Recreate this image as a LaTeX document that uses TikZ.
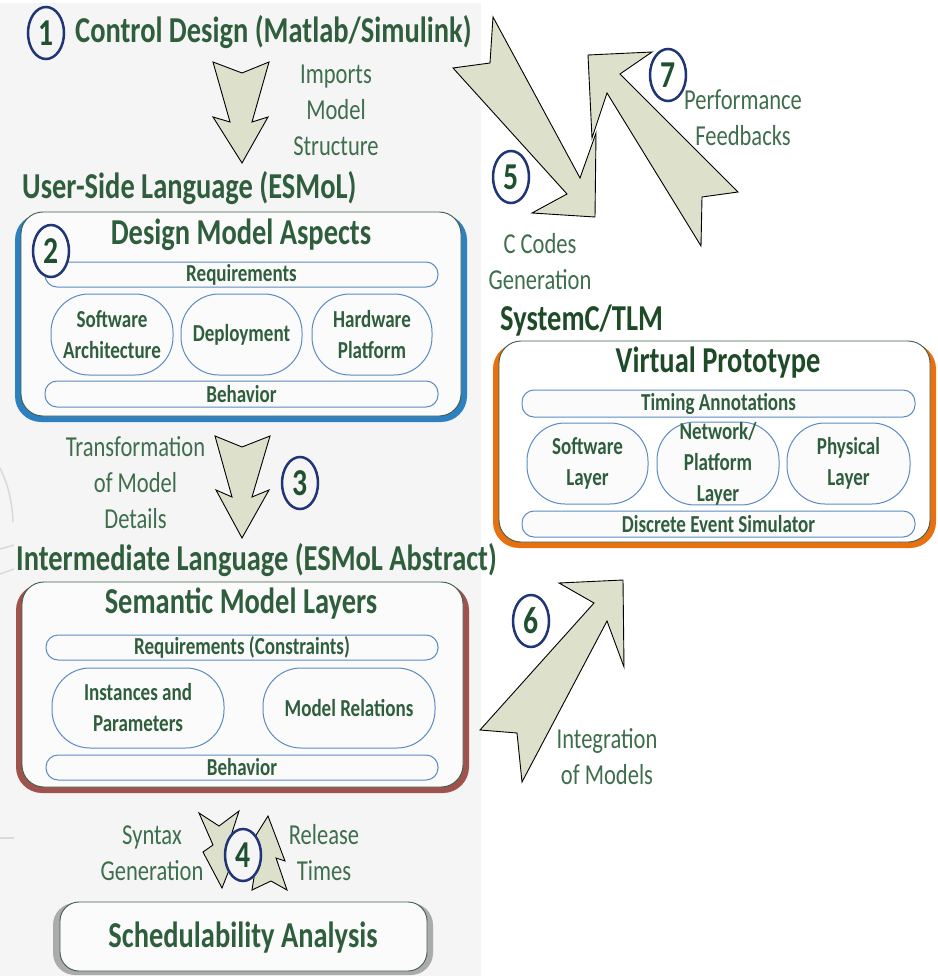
\documentclass[tikz,border=0pt]{standalone}
\usepackage{fontspec}
\setmainfont[FakeStretch=0.78]{Carlito}
\usetikzlibrary{shapes.geometric}

\definecolor{panel}{HTML}{F5F5F5}
\definecolor{boxfill}{HTML}{FBFBFB}
\definecolor{headgreen}{HTML}{2F5E3C}
\definecolor{darkgreen}{HTML}{1E4A28}
\definecolor{labgreen}{HTML}{3E6E4C}
\definecolor{digitgreen}{HTML}{1F5030}
\definecolor{navy}{HTML}{1F3577}
\definecolor{arrowfill}{HTML}{DDE0CB}
\definecolor{pillblue}{HTML}{5B8BC6}
\definecolor{bandblue}{HTML}{2E80C0}
\definecolor{bandbrown}{HTML}{A0524C}
\definecolor{bandorange}{HTML}{E8700E}
\definecolor{bandgray}{HTML}{ABABAB}
\definecolor{edgegreen}{HTML}{3C5F48}
\definecolor{faint}{HTML}{DADADA}

\begin{document}
\begin{tikzpicture}[x=1pt,y=-1pt,
  heading/.style={font=\bfseries\fontsize{36.5}{40}\selectfont,text=headgreen,inner sep=0pt},
  caption/.style={font=\fontsize{28.9}{36}\selectfont,text=labgreen,align=center,inner sep=0pt},
  pill/.style={draw=pillblue,line width=1pt,fill=boxfill,rounded corners=#1,
    font=\bfseries\fontsize{24.4}{31}\selectfont,text=headgreen,align=center,inner sep=0pt},
  marker/.style={ellipse,draw=navy,line width=2.5pt,minimum width=36pt,minimum height=52pt,
    inner sep=0pt,font=\bfseries\fontsize{38}{38}\selectfont,text=digitgreen},
  blockarrow/.style={draw=black,line width=0.9pt,fill=arrowfill,line join=miter},
  frameedge/.style={draw=edgegreen,line width=0.9pt,fill=boxfill}
]
\useasboundingbox (0,0) rectangle (937,976);

% left panel
\fill[panel] (0,3) rectangle (481,976);
% faint background strokes at the left edge
\draw[faint,line width=1.5pt] (0,468) .. controls (8,485) and (12,500) .. (13,522);
\draw[faint,line width=1.5pt] (0,549) -- (14,545);
\draw[faint,line width=1.5pt] (0,574) -- (14,569);
\draw[faint,line width=1.5pt] (0,838) -- (14,838);

% block arrows
\draw[blockarrow] (213,62) -- (242,73) -- (269,62) -- (252,122) -- (268,117) -- (242,163) -- (213,117) -- (230,122) -- cycle;
\draw[blockarrow] (215,436) -- (242,447) -- (270,436) -- (252,497) -- (269,490) -- (242,538) -- (216,490) -- (232,497) -- cycle;
\draw[blockarrow] (701,246) -- (702,197) -- (738,192) -- (620,74) -- (652,52) -- (588,55) -- (592,138) -- (607,93) -- cycle;
\draw[blockarrow] (493,17) -- (490,63) -- (453,68) -- (567,194) -- (532,213) -- (595,217) -- (596,133) -- (580,178) -- cycle;
\draw[blockarrow] (480,730) -- (517,733) -- (522,782) -- (607,621) -- (624,667) -- (623,580) -- (559,583) -- (594,603) -- cycle;
\draw[blockarrow] (199,813) -- (219,826) -- (239,811) -- (229,842) -- (239,845) -- (222,888) -- (203,852) -- (213,845) -- cycle;
\draw[blockarrow] (268,816) -- (285,861) -- (276,858) -- (287,890) -- (271,881) -- (252,890) -- (258,852) -- (248,848) -- cycle;

% framed containers: coloured band with a thin-edged panel on top
\fill[bandblue,rounded corners=26pt] (15,214) rectangle (467,422);
\draw[frameedge,rounded corners=22pt] (21,212) rectangle (461,416);
\fill[bandbrown,rounded corners=26pt] (16,584) rectangle (469,793);
\draw[frameedge,rounded corners=22pt] (22,582) rectangle (463,787);
\fill[bandorange,rounded corners=26pt] (493,343) rectangle (936,548);
\draw[frameedge,rounded corners=22pt,fill=white] (499,341) rectangle (930,542);
\fill[bandgray,rounded corners=22pt] (53,903) rectangle (433,975);
\draw[frameedge,rounded corners=19pt] (60,902) rectangle (427,971);

% headings
\node[heading,anchor=base west] (cd) at (75,43) {Control Design (Matlab/Simulink)};
\node[heading,anchor=base west] (usl) at (22,199) {User-Side Language (ESMoL)};
\node[heading,anchor=base] (dma) at (241,244) {Design Model Aspects};
\node[heading,anchor=base west,text=darkgreen] (sctlm) at (500,330) {SystemC/TLM};
\node[heading,anchor=base,text=darkgreen] (vp) at (718,372) {Virtual Prototype};
\node[heading,anchor=base west] (il) at (16,570) {Intermediate Language (ESMoL Abstract)};
\node[heading,anchor=base] (sml) at (241,613) {Semantic Model Layers};
\node[heading,anchor=base] (sa) at (243,947) {Schedulability Analysis};

% design model aspects
\node[pill=12pt,minimum width=393pt,minimum height=25pt] (req) at (241.5,274.5) {Requirements};
\node[pill=38pt,minimum width=122pt,minimum height=81pt] (swa) at (112,334.5) {Software\\Architecture};
\node[pill=38pt,minimum width=121pt,minimum height=81pt] (dep) at (241.5,334.5) {Deployment};
\node[pill=38pt,minimum width=120pt,minimum height=81pt] (hwp) at (372,334.5) {Hardware\\Platform};
\node[pill=12pt,minimum width=393pt,minimum height=26pt] (beh) at (241.5,394) {Behavior};

% virtual prototype
\node[pill=12pt,minimum width=393pt,minimum height=27pt] (tim) at (718.5,403.5) {Timing Annotations};
\node[pill=38pt,minimum width=121pt,minimum height=81pt] (swl) at (587.5,463.5) {Software\\Layer};
\node[pill=38pt,minimum width=122pt,minimum height=81pt] (npl) at (718,463.5) {Network/\\Platform\\Layer};
\node[pill=38pt,minimum width=123pt,minimum height=81pt] (phl) at (848.5,463.5) {Physical\\Layer};
\node[pill=12pt,minimum width=393pt,minimum height=26pt] (des) at (718.5,524) {Discrete Event Simulator};

% semantic model layers
\node[pill=12pt,minimum width=392pt,minimum height=25pt] (reqc) at (242,647.5) {Requirements (Constraints)};
\node[pill=38pt,minimum width=172pt,minimum height=80pt] (inst) at (138,708) {Instances and\\Parameters};
\node[pill=38pt,minimum width=172pt,minimum height=80pt] (mrel) at (349,708) {Model Relations};
\node[pill=12pt,minimum width=392pt,minimum height=25pt] (behs) at (242,767.5) {Behavior};

% captions (anchored at the baseline of their last line)
\node[caption,anchor=base] (cimp) at (336,156) {Imports\\Model\\Structure};
\node[caption,anchor=base] (cperf) at (743,146) {Performance\\Feedbacks};
\node[caption,anchor=base] (ccode) at (540,289) {C Codes\\Generation};
\node[caption,anchor=base] (ctrans) at (135.5,528) {Transformation\\of Model\\Details};
\node[caption,anchor=base] (cint) at (607,784) {Integration\\of Models};
\node[caption,anchor=base] (csyn) at (152,880) {Syntax\\Generation};
\node[caption,anchor=base] (crel) at (324,880) {Release\\Times};

% step markers
\node[marker,fill=panel] (m1) at (46,33) {1};
\node[marker,fill=boxfill] (m2) at (51,251) {2};
\node[marker,fill=panel] (m3) at (300,483) {3};
\node[marker,fill=panel] (m4) at (243,855) {4};
\node[marker,fill=white] (m5) at (511,177) {5};
\node[marker,fill=white] (m6) at (531,621) {6};
\node[marker,fill=white] (m7) at (668,75) {7};
\end{tikzpicture}
\end{document}
